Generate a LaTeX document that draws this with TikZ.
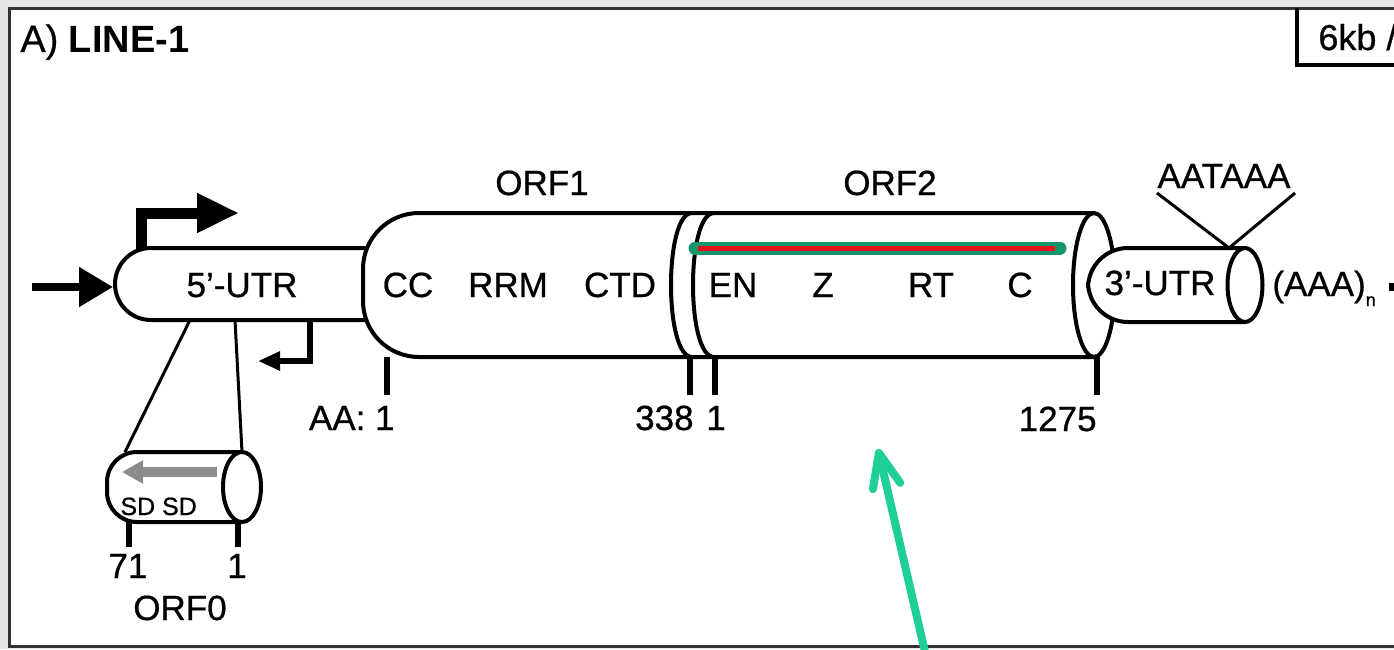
\documentclass[tikz,border=0pt]{standalone}
\usepackage{fontspec}
\setmainfont{Liberation Sans}
\newfontfamily\heavyfont{Liberation Sans}[FakeBold=0.7]
\usetikzlibrary{arrows.meta}
\definecolor{bggray}{HTML}{E6E6E6}
\definecolor{framegray}{HTML}{333333}
\definecolor{hlgreen}{HTML}{14956C}
\definecolor{hlred}{HTML}{E8121A}
\definecolor{mint}{HTML}{1FCF98}
\definecolor{arrgray}{HTML}{8C8C8C}
\begin{document}
\begin{tikzpicture}[x=0.5pt,y=-0.5pt,
  outl/.style={line width=2pt, draw=black, fill=white},
  lbl/.style={anchor=base, inner sep=0pt, font=\heavyfont\fontsize{17.5}{20}\selectfont},
  tickline/.style={line width=3pt},
  thin/.style={line width=1.5pt},
]
\useasboundingbox (0,0) rectangle (1394,649);
\clip (0,0) rectangle (1394,649);
\fill[bggray] (0,0) rectangle (1394,649);
\draw[line width=1.5pt, draw=framegray, fill=white] (9,8) rectangle (1420,646);

% title and scale box
\node[lbl, anchor=base west, font=\heavyfont\fontsize{19}{22}\selectfont] (title) at (20,52) {A) {\normalfont\fontsize{19}{22}\selectfont\bfseries LINE-1}};
\draw[line width=2pt] (1297,8) -- (1297,65) -- (1420,65);
\node[lbl, anchor=base west, font=\heavyfont\fontsize{18}{22}\selectfont] (scale) at (1318,50) {6kb /};

% ORF0 expansion lines
\coordinate (u1) at (190,320);
\coordinate (u2) at (235,320);
\coordinate (o1) at (125,452);
\coordinate (o2) at (242,452);
\draw[thin] (u1) -- (o1);
\draw[thin] (u2) -- (o2);

% 5'-UTR
\draw[outl, rounded corners=18] (380,248) -- (115,248) -- (115,320) -- (380,320);
\node[lbl] (utr5) at (242,297) {5’-UTR};

% ORF1 + ORF2 body
\draw[outl, rounded corners=28] (1094,213) -- (363,213) -- (363,357) -- (1094,357);
\draw[outl] (1094,285) ellipse [x radius=21, y radius=72];
\draw[line width=2pt] (692,213) .. controls (664,213) and (664,357) .. (692,357);
\draw[line width=2pt] (714,213) .. controls (686,213) and (686,357) .. (714,357);

% 3'-UTR
\draw[outl, rounded corners=20] (1245,248) -- (1088,248) -- (1088,322) -- (1245,322);
\draw[outl] (1245,285) ellipse [x radius=17.5, y radius=37];
\node[lbl] (utr3) at (1160,295) {3’-UTR};

% ORF0 cylinder
\draw[outl, rounded corners=15] (242,452) -- (107,452) -- (107,522) -- (242,522);
\draw[outl] (242,487) ellipse [x radius=19, y radius=35];
\coordinate (ga) at (217,472);
\coordinate (gb) at (122,472);
\draw[line width=5pt, arrgray, -{Triangle[length=10.5pt,width=11pt]}] (ga) -- (gb);
\node[lbl, anchor=base west, font=\heavyfont\fontsize{12.5}{14}\selectfont] (sd) at (120,515) {SD SD};

% highlight line
\coordinate (h1) at (695,248);
\coordinate (h2) at (1060,248);
\draw[line width=6.5pt, hlgreen, line cap=round] (h1) -- (h2);
\draw[line width=2.5pt, hlred] ([xshift=1.5pt]h1) -- ([xshift=-2.5pt]h2);

% domain labels
\node[lbl] (orf1) at (542,195) {ORF1};
\node[lbl] (orf2) at (890,195) {ORF2};
\node[lbl] (cc) at (408,297) {CC};
\node[lbl] (rrm) at (508,297) {RRM};
\node[lbl] (ctd) at (620,297) {CTD};
\node[lbl] (en) at (733,297) {EN};
\node[lbl] (z) at (823,297) {Z};
\node[lbl] (rt) at (931,297) {RT};
\node[lbl] (c) at (1020,297) {C};

% ticks main
\foreach \x/\n in {387/ta,690/tb,715/tc,1097/td}{
  \coordinate (\n1) at (\x,357);
  \coordinate (\n2) at (\x,395);
  \draw[tickline] (\n1) -- (\n2);
}
\node[lbl, anchor=base east] (aa) at (395,430) {AA: 1};
\node[lbl, anchor=base east] (n338) at (694,430) {338};
\node[lbl] (n1) at (716,430) {1};
\node[lbl, anchor=base east] (n1275) at (1097,431) {1275};

% ORF0 ticks
\coordinate (p1) at (129,522);
\coordinate (p2) at (129,547);
\coordinate (q1) at (238,522);
\coordinate (q2) at (238,547);
\draw[tickline] (p1) -- (p2);
\draw[tickline] (q1) -- (q2);
\node[lbl] (n71) at (128,578) {71};
\node[lbl] (n1b) at (237,578) {1};
\node[lbl] (orf0) at (180,620) {ORF0};

% AATAAA
\node[lbl] (aataaa) at (1224,188) {AATAAA};
\coordinate (s1) at (1157,193);
\coordinate (s2) at (1295,193);
\coordinate (sm) at (1229,248);
\draw[thin] (s1) -- (sm) -- (s2);
\node[lbl, anchor=base west] (polya) at (1272,296) {(AAA)\raisebox{-5pt}{\fontsize{9}{9}\selectfont n}};
\fill (1389,283) rectangle (1394,291);

% promoter arrows
\coordinate (la) at (32,287);
\coordinate (lb) at (113,287);
\draw[line width=4pt, -{Triangle[length=17pt,width=19pt]}] (la) -- (lb);
\coordinate (ba) at (141,250);
\coordinate (bb) at (141,213);
\coordinate (bc) at (239,213);
\draw[line width=5.5pt, -{Triangle[length=21pt,width=18.5pt]}] (ba) -- (bb) -- (bc);
\coordinate (ra) at (310,320);
\coordinate (rb) at (310,361);
\coordinate (rc) at (258,361);
\draw[line width=3pt, -{Triangle[length=11pt,width=9pt]}] (ra) -- (rb) -- (rc);

% mint arrow
\coordinate (ma) at (925,652);
\coordinate (mb) at (878,449);
\draw[mint, line width=4pt, line cap=round, line join=round,
  -{Straight Barb[length=17pt,width=14pt,line cap=round,line join=round]}] (ma) -- (mb);
\end{tikzpicture}
\end{document}
